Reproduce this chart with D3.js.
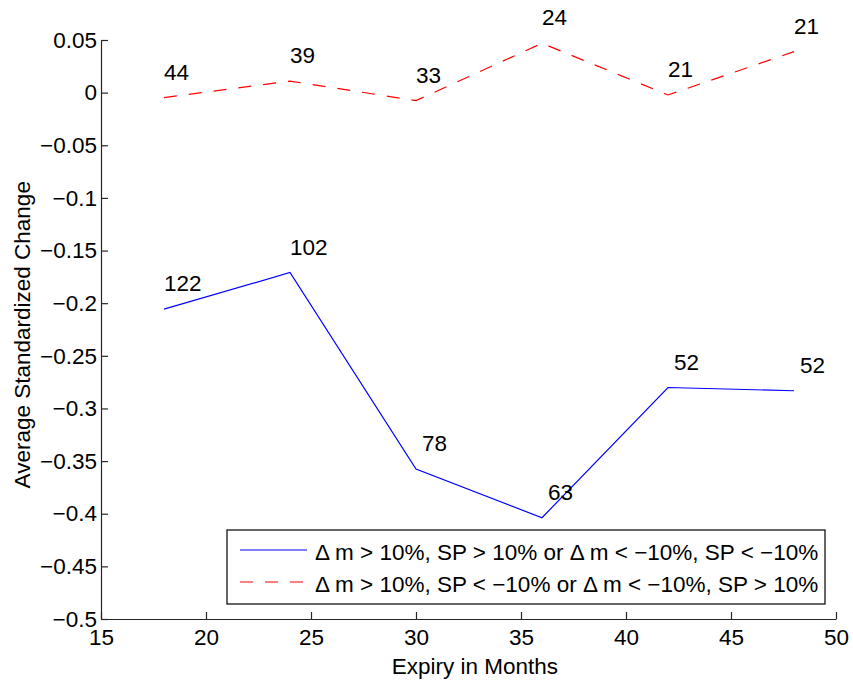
<!DOCTYPE html>
<html>
<head>
<meta charset="utf-8">
<script src="https://cdn.jsdelivr.net/npm/d3@7"></script>
<style>
  body { margin: 0; background: #fff; }
  text { font-family: "Liberation Sans", Arial, sans-serif; fill: #000; }
</style>
</head>
<body>
<div id="viz"></div>
<script>
// expiry (months) and average standardized change per group
let months = [18, 24, 30, 36, 42, 48];
let sameSignValues = [-0.2057, -0.1709, -0.3576, -0.4038, -0.2801, -0.2832];
let oppSignValues = [-0.0047, 0.0110, -0.0076, 0.0469, -0.0022, 0.0389];
// number of observations printed next to each point
let sameSignCounts = [122, 102, 78, 63, 52, 52];
let oppSignCounts = [44, 39, 33, 24, 21, 21];
let xTicks = [15, 20, 25, 30, 35, 40, 45, 50];
let yTicks = [0.05, 0, -0.05, -0.1, -0.15, -0.2, -0.25, -0.3, -0.35, -0.4, -0.45, -0.5];
let legendLabels = [
    '\u0394 m > 10%, SP > 10% or \u0394 m < \u221210%, SP < \u221210%',
    '\u0394 m > 10%, SP < \u221210% or \u0394 m < \u221210%, SP > 10%'
];

let margin = { top: 40, right: 17, bottom: 62, left: 101 };
let width = 853 - margin.left - margin.right,
    height = 681 - margin.top - margin.bottom;
let fontSize = 22.5;

let xScale = d3.scaleLinear().domain([15, 50]).range([0, width]);
let yScale = d3.scaleLinear().domain([-0.5, 0.05]).range([height, 0]);

let fmt = (d) => {
    let s = d3.format('')(+d.toFixed(2));
    return s.replace('-', '\u2212');
};

let svg = d3.select('#viz')
    .append('svg')
    .attr('width', 853)
    .attr('height', 681);

let chart = svg.append('g')
    .attr('transform', 'translate(' + margin.left + ',' + margin.top + ')');

// axes, ticks pointing inward like matlab
let xAxis = chart.append('g')
    .attr('transform', 'translate(0,' + height + ')')
    .call(d3.axisBottom(xScale).tickValues(xTicks).tickSize(-7).tickSizeOuter(0).tickPadding(10));
let yAxis = chart.append('g')
    .call(d3.axisLeft(yScale).tickValues(yTicks).tickSize(-7).tickSizeOuter(0).tickPadding(4).tickFormat(fmt));

[xAxis, yAxis].forEach((ax) => {
    ax.selectAll('path, line').attr('stroke', '#262626').attr('stroke-width', 1.2);
    ax.selectAll('text').style('font-size', fontSize + 'px')
        .style('font-family', '"Liberation Sans", Arial, sans-serif').attr('fill', '#000');
});
xAxis.selectAll('text').attr('dy', '0.71em');

// axis titles
chart.append('text')
    .attr('x', xScale(32.8))
    .attr('y', height + 55)
    .attr('text-anchor', 'middle')
    .style('font-size', fontSize + 'px')
    .text('Expiry in Months');
chart.append('text')
    .attr('transform', 'translate(' + (-71) + ',' + yScale(-0.23) + ') rotate(-90)')
    .attr('text-anchor', 'middle')
    .style('font-size', fontSize + 'px')
    .text('Average Standardized Change');

let line = d3.line()
    .x((d) => xScale(d[0]))
    .y((d) => yScale(d[1]));

let series = [
    { values: sameSignValues, counts: sameSignCounts, color: '#0000ff', dash: null, nudge: [0, 0, 6, 6, 6, 6] },
    { values: oppSignValues, counts: oppSignCounts, color: '#ff0000', dash: '13,12', nudge: [0, 0, 0, 0, 0, 0] }
];

series.forEach((s) => {
    let pts = months.map((m, i) => [m, s.values[i]]);
    chart.append('path')
        .datum(pts)
        .attr('fill', 'none')
        .attr('stroke', s.color)
        .attr('stroke-width', 1.2)
        .attr('stroke-dasharray', s.dash)
        .attr('d', line);

    chart.selectAll(null)
        .data(pts)
        .enter()
        .append('text')
        .attr('x', (d, i) => xScale(d[0]) + s.nudge[i])
        .attr('y', (d) => yScale(d[1]) - 18)
        .style('font-size', fontSize + 'px')
        .text((d, i) => s.counts[i]);
});

// legend
let legend = chart.append('g')
    .attr('transform', 'translate(' + (227 - margin.left) + ',' + (530 - margin.top) + ')');
legend.append('rect')
    .attr('width', 598)
    .attr('height', 74)
    .attr('fill', '#fff')
    .attr('stroke', '#000')
    .attr('stroke-width', 1.2);

series.forEach((s, i) => {
    let ly = 20 + i * 32;
    legend.append('line')
        .attr('x1', 13).attr('x2', 80)
        .attr('y1', ly).attr('y2', ly)
        .attr('stroke', s.color)
        .attr('stroke-width', 1.2)
        .attr('stroke-dasharray', s.dash);
    legend.append('text')
        .attr('x', 88)
        .attr('y', ly + 10)
        .style('font-size', fontSize + 'px')
        .text(legendLabels[i]);
});
</script>
</body>
</html>
